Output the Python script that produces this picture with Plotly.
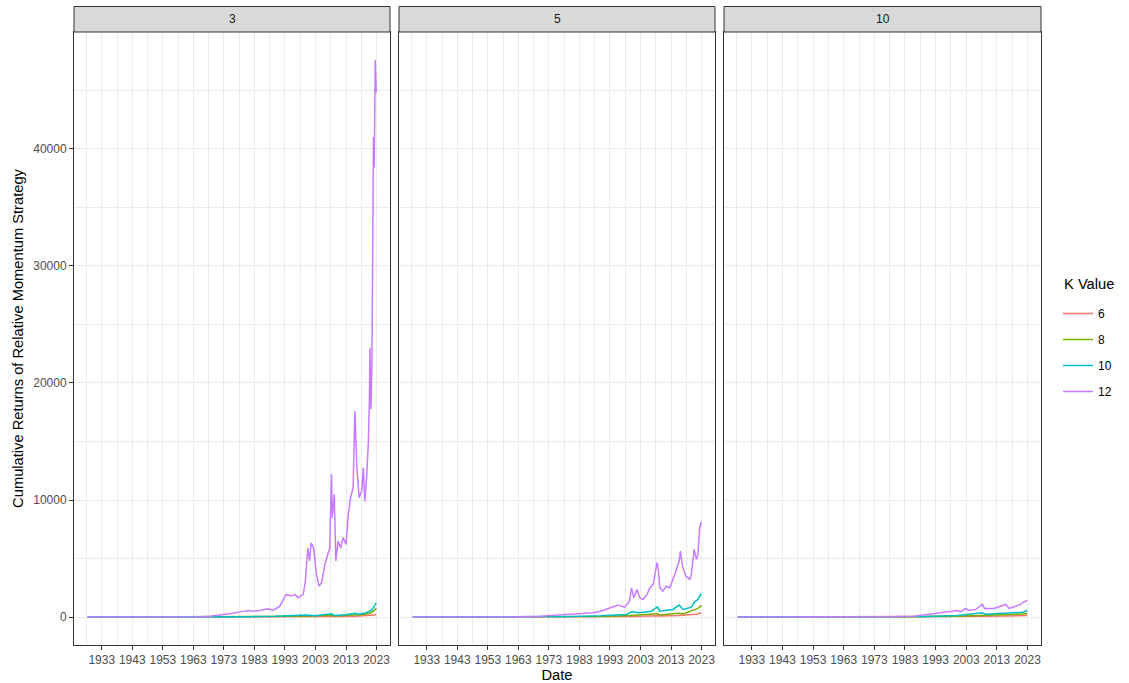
import plotly.graph_objects as go

# Holding period panels and lookback (K) values
panels = ["3", "5", "10"]
k_values = ["6", "8", "10", "12"]
k_colors = {"6": "#F8766D", "8": "#7CAE00", "10": "#00BFC4", "12": "#C77CFF"}

# ---- Holding period 3 ----
dates_h3_k6 = ["1928-06", "1960-01", "1980-01", "2000-01", "2008-04", "2015-12", "2020-01", "2022-06", "2022-12"]
vals_h3_k6 = [1, 3, 10, 40, 60, 80, 120, 180, 250]

dates_h3_k8 = ["1928-06", "1960-01", "1980-01", "1990-01", "2000-01", "2008-04", "2009-03", "2015-12",
               "2019-01", "2021-01", "2022-06", "2022-12"]
vals_h3_k8 = [1, 5, 25, 50, 100, 170, 100, 200, 220, 350, 600, 800]

dates_h3_k10 = ["1928-06", "1950-01", "1970-01", "1980-01", "1990-01", "2000-01", "2003-01", "2008-04",
                "2009-03", "2013-01", "2015-12", "2017-01", "2019-06", "2020-11", "2021-06", "2022-06",
                "2022-12"]
vals_h3_k10 = [1, 3, 15, 40, 80, 180, 120, 290, 150, 200, 330, 250, 350, 500, 600, 1000, 1220]

dates_h3_k12 = ["1928-06", "1935-01", "1945-01", "1955-01", "1960-01", "1965-01", "1968-06", "1971-01",
                "1973-11", "1976-01", "1978-04", "1981-01", "1982-08", "1984-10", "1987-06", "1989-03",
                "1991-05", "1992-06", "1993-06", "1995-03", "1996-04", "1997-05", "1999-01", "1999-09",
                "2000-02", "2000-07", "2001-02", "2001-08", "2002-06", "2003-05", "2004-03", "2005-01",
                "2006-02", "2007-03", "2007-09", "2008-04", "2008-07", "2009-03", "2009-09", "2010-06",
                "2011-04", "2012-02", "2013-01", "2013-10", "2014-07", "2015-05", "2015-12", "2016-08",
                "2017-05", "2018-03", "2018-09", "2019-03", "2019-10", "2020-05", "2020-09", "2020-11",
                "2021-03", "2021-07", "2022-01", "2022-04", "2022-08", "2022-12"]
vals_h3_k12 = [1, 1.5, 3, 8, 15, 35, 85, 150,
               280, 330, 450, 570, 510, 570, 710, 570,
               940, 1500, 1940, 1800, 1940, 1650, 1940, 3000,
               4200, 5900, 4800, 6350, 5900, 3650, 2650, 2930,
               4500, 5360, 5900, 12200, 8500, 10500, 4800, 6500,
               5900, 6800, 6200, 8780, 10200, 11050, 17600, 12750,
               10200, 10800, 12750, 9900, 11900, 15000, 18500, 23000,
               17750, 21600, 41000, 38400, 47600, 44800]

# ---- Holding period 5 ----
dates_h5_k6 = ["1928-06", "1960-01", "1980-01", "2000-01", "2008-08", "2009-06", "2015-09", "2019-06",
               "2021-06", "2022-12"]
vals_h5_k6 = [1, 3, 15, 60, 120, 90, 150, 180, 250, 370]

dates_h5_k8 = ["1928-06", "1960-01", "1980-01", "1990-01", "2000-01", "2008-08", "2009-05", "2015-09",
               "2017-01", "2019-09", "2020-10", "2021-11", "2022-12"]
vals_h5_k8 = [1, 5, 30, 60, 150, 280, 180, 330, 280, 510, 600, 750, 1000]

dates_h5_k10 = ["1928-06", "1950-01", "1970-01", "1980-01", "1990-01", "1998-07", "2000-02", "2002-10",
                "2006-08", "2008-08", "2009-05", "2013-09", "2015-09", "2017-01", "2019-09", "2020-10",
                "2021-11", "2022-12"]
vals_h5_k10 = [1, 3, 20, 60, 120, 230, 450, 370, 510, 880, 510, 660, 1030, 660, 855, 1310, 1510, 2000]

dates_h5_k12 = ["1928-06", "1940-01", "1950-01", "1960-01", "1970-01", "1976-08", "1980-01", "1984-01",
                "1987-06", "1990-01", "1993-01", "1995-09", "1997-11", "1999-06", "2000-02", "2000-11",
                "2001-11", "2002-10", "2003-11", "2005-03", "2006-02", "2007-03", "2008-06", "2008-11",
                "2009-05", "2010-05", "2011-07", "2012-08", "2014-04", "2015-09", "2016-02", "2016-10",
                "2017-11", "2019-03", "2019-09", "2020-08", "2021-05", "2021-11", "2022-06", "2022-12"]
vals_h5_k12 = [1, 2, 6, 20, 80, 230, 250, 300,
               370, 500, 800, 1030, 855, 1370, 2500, 1650,
               2370, 1650, 1510, 1940, 2500, 2800, 4650, 4080,
               2500, 2220, 2650, 2500, 3650, 4790, 5640, 4360,
               3500, 3220, 3650, 5790, 4930, 5360, 7640, 8150]

# ---- Holding period 10 ----
dates_h10_k6 = ["1928-06", "1960-01", "1980-01", "2000-01", "2008-04", "2015-12", "2020-01", "2022-12"]
vals_h10_k6 = [1, 3, 10, 40, 70, 90, 110, 145]

dates_h10_k8 = ["1928-06", "1960-01", "1980-01", "2000-01", "2008-04", "2015-12", "2020-01", "2022-12"]
vals_h10_k8 = [1, 4, 20, 80, 150, 170, 200, 280]

dates_h10_k10 = ["1928-06", "1960-01", "1980-01", "1990-01", "2000-01", "2008-04", "2009-03", "2015-12",
                 "2019-06", "2021-06", "2022-12"]
vals_h10_k10 = [1, 5, 25, 60, 150, 370, 250, 330, 350, 420, 570]

dates_h10_k12 = ["1928-06", "1950-01", "1970-01", "1980-01", "1985-12", "1992-06", "1996-10", "2000-02",
                 "2001-03", "2002-10", "2003-12", "2006-02", "2008-04", "2009-01", "2012-02", "2015-12",
                 "2017-01", "2019-09", "2020-10", "2021-09", "2022-12"]
vals_h10_k12 = [1, 4, 20, 45, 85, 280, 450, 570,
                450, 740, 570, 660, 1085, 740, 740, 1085,
                740, 940, 1085, 1280, 1430]

series = {
    "3": {"6": (dates_h3_k6, vals_h3_k6), "8": (dates_h3_k8, vals_h3_k8),
          "10": (dates_h3_k10, vals_h3_k10), "12": (dates_h3_k12, vals_h3_k12)},
    "5": {"6": (dates_h5_k6, vals_h5_k6), "8": (dates_h5_k8, vals_h5_k8),
          "10": (dates_h5_k10, vals_h5_k10), "12": (dates_h5_k12, vals_h5_k12)},
    "10": {"6": (dates_h10_k6, vals_h10_k6), "8": (dates_h10_k8, vals_h10_k8),
           "10": (dates_h10_k10, vals_h10_k10), "12": (dates_h10_k12, vals_h10_k12)},
}

x_ticks = [str(y) for y in range(1933, 2024, 10)]
x_minor = [str(y) for y in range(1928, 2024, 10)]
y_ticks = [0, 10000, 20000, 30000, 40000]
y_minor = [5000, 15000, 25000, 35000, 45000]

W, H = 1129, 683
ML, MR, MT, MB = 74, 88, 32, 38
plot_w = W - ML - MR
plot_h = H - MT - MB
panel_px = [(74, 390), (399, 715), (724, 1041)]
domains = [[(a - ML) / plot_w, (b - ML) / plot_w] for a, b in panel_px]

FONT = "Liberation Sans, Arial, Helvetica, sans-serif"
GRID = "#EBEBEB"
BORDER = "#333333"

fig = go.Figure()
for i, p in enumerate(panels):
    for k in k_values:
        d, v = series[p][k]
        fig.add_trace(go.Scatter(
            x=[s + "-01" for s in d], y=v, mode="lines",
            line=dict(color=k_colors[k], width=1.5),
            name=k, legendgroup=k, showlegend=(i == 0),
            xaxis="x" if i == 0 else f"x{i + 1}",
            yaxis="y" if i == 0 else f"y{i + 1}",
        ))

layout = dict(
    width=W, height=H,
    margin=dict(l=ML, r=MR, t=MT, b=MB, autoexpand=False),
    paper_bgcolor="white", plot_bgcolor="white",
    font=dict(family=FONT, color="#4D4D4D", size=12),
    legend=dict(
        font=dict(size=12, color="black"),
        x=(1058 - ML) / plot_w, xanchor="left",
        y=(645 - 299) / plot_h, yanchor="top",
        traceorder="grouped", tracegroupgap=7, itemwidth=30,
        bgcolor="rgba(0,0,0,0)",
    ),
    shapes=[], annotations=[],
)

# legend heading
layout["annotations"].append(dict(
    text="K Value", xref="paper", yref="paper",
    x=(1062 - ML) / plot_w, y=(645 - 284) / plot_h,
    xanchor="left", yanchor="middle", showarrow=False,
    font=dict(size=14.7, color="black"),
))

for i, p in enumerate(panels):
    xa = "xaxis" if i == 0 else f"xaxis{i + 1}"
    ya = "yaxis" if i == 0 else f"yaxis{i + 1}"
    layout[xa] = dict(
        domain=domains[i], anchor="y" if i == 0 else f"y{i + 1}", type="date",
        range=["1923-12-01", "2027-06-01"],
        tickmode="array", tickvals=[t + "-01-01" for t in x_ticks], ticktext=x_ticks,
        ticks="outside", ticklen=4, tickcolor=BORDER, tickwidth=1,
        tickfont=dict(size=12, color="#4D4D4D"),
        showgrid=True, gridcolor=GRID, gridwidth=1.1,
        minor=dict(tickmode="array", tickvals=[t + "-01-01" for t in x_minor],
                   showgrid=True, gridcolor=GRID, gridwidth=0.6, ticks=""),
        showline=True, linecolor=BORDER, linewidth=1, mirror=True,
        zeroline=False, automargin=False,
    )
    layout[ya] = dict(
        domain=[0, 1], anchor="x" if i == 0 else f"x{i + 1}",
        range=[-2380, 49980],
        tickmode="array", tickvals=y_ticks, ticktext=[str(t) for t in y_ticks],
        ticks="outside" if i == 0 else "", ticklen=4, tickcolor=BORDER, tickwidth=1,
        showticklabels=(i == 0),
        tickfont=dict(size=12, color="#4D4D4D"),
        showgrid=True, gridcolor=GRID, gridwidth=1.1,
        minor=dict(tickmode="array", tickvals=y_minor,
                   showgrid=True, gridcolor=GRID, gridwidth=0.6, ticks=""),
        showline=True, linecolor=BORDER, linewidth=1, mirror=True,
        zeroline=False, automargin=False,
    )
    if i > 0:
        layout[ya]["matches"] = "y"
    # facet strip
    strip_h = 25.5 / plot_h
    layout["shapes"].append(dict(
        type="rect", xref="paper", yref="paper",
        x0=domains[i][0], x1=domains[i][1], y0=1, y1=1 + strip_h,
        fillcolor="#D9D9D9", line=dict(color=BORDER, width=1), layer="above",
    ))
    layout["annotations"].append(dict(
        text=p, xref="paper", yref="paper",
        x=(domains[i][0] + domains[i][1]) / 2, y=1 + strip_h / 2,
        xanchor="center", yanchor="middle", showarrow=False,
        font=dict(size=12, color="#1A1A1A"),
    ))

layout["xaxis2"]["title"] = dict(text="Date", font=dict(size=14.7, color="black"), standoff=4)
layout["yaxis"]["title"] = dict(text="Cumulative Returns of Relative Momentum Strategy",
                                font=dict(size=14.7, color="black"), standoff=6)

fig.update_layout(**layout)
fig.write_html("out.html")
